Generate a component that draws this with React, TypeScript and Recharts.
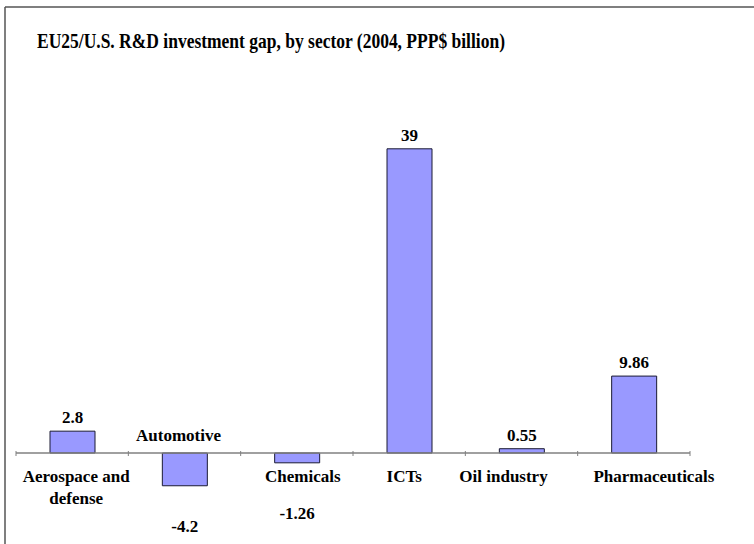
import { BarChart, Bar, XAxis, YAxis, ReferenceLine, LabelList } from "recharts";

const categories = [
  "Aerospace and defense",
  "Automotive",
  "Chemicals",
  "ICTs",
  "Oil industry",
  "Pharmaceuticals",
];
const gapValues = [2.8, -4.2, -1.26, 39, 0.55, 9.86];
const yDomain = [-10, 40];

const data = categories.map((name, i) => ({ name, gap: gapValues[i] }));

const FONT = "Liberation Serif, Tinos, Times New Roman, DejaVu Serif, serif";

// the original labels are not quite centred under their bars
const labelNudge = [4, -6, 6, -5, -18, 20];

// greedy wrap, like the spreadsheet did for the long category name
function wrap(text: string, maxChars = 15) {
  const lines: string[] = [];
  let cur = "";
  for (const w of text.split(" ")) {
    const next = cur ? cur + " " + w : w;
    if (next.length > maxChars && cur) {
      lines.push(cur);
      cur = w;
    } else cur = next;
  }
  if (cur) lines.push(cur);
  return lines;
}

// zero line drawn as the category axis, with ticks between categories
function ZeroAxis(props: any) {
  const { x1, y1, x2 } = props;
  const n = categories.length;
  const step = (x2 - x1) / n;
  return (
    <g>
      <line x1={x1} y1={y1} x2={x2} y2={y1} stroke="#808080" strokeWidth={1.5} />
      {Array.from({ length: n + 1 }, (_, i) => (
        <line
          key={"t" + i}
          x1={x1 + i * step}
          x2={x1 + i * step}
          y1={y1 - 2}
          y2={y1 + 3}
          stroke="#808080"
          strokeWidth={1}
        />
      ))}
      {categories.map((name, i) => {
        const cx = x1 + (i + 0.5) * step + labelNudge[i];
        const above = gapValues[i] < -2;
        const lines = wrap(name);
        const y0 = above ? y1 - 12 : y1 + 29;
        return (
          <text
            key={name}
            x={cx}
            y={y0}
            textAnchor="middle"
            style={{ fontFamily: FONT, fontWeight: "bold", fontSize: 17 }}
            fill="#000"
          >
            {lines.map((l, j) => (
              <tspan key={j} x={cx} dy={j === 0 ? 0 : 22}>
                {l}
              </tspan>
            ))}
          </text>
        );
      })}
    </g>
  );
}

function ValueLabel(props: any) {
  const vb = props.viewBox || props;
  const { x, y, width, height } = vb;
  const value = Number(props.value);
  const top = Math.min(y, y + height);
  const bottom = Math.max(y, y + height);
  const cx = x + width / 2;
  let ty;
  if (value >= 0) {
    ty = top - 8;
  } else {
    // negative labels sit below the category labels
    ty = Math.max(bottom + 46, top + 66);
  }
  return (
    <text
      x={cx}
      y={ty}
      textAnchor="middle"
      style={{ fontFamily: FONT, fontWeight: "bold", fontSize: 17 }}
      fill="#000"
    >
      {String(props.value)}
    </text>
  );
}

export default function App() {
  return (
    <div style={{ position: "absolute", left: 0, top: 0, width: 754, height: 544, background: "#fff" }}>
      <svg width={754} height={544} style={{ position: "absolute", left: 0, top: 0 }}>
        <line x1={5} y1={7} x2={754} y2={7} stroke="#555" strokeWidth={1.5} />
        <line x1={5} y1={7} x2={5} y2={544} stroke="#555" strokeWidth={1.5} />
        <text
          x={37}
          y={48}
          textLength={468}
          lengthAdjust="spacingAndGlyphs"
          style={{ fontFamily: FONT, fontWeight: "bold", fontSize: 22 }}
          fill="#000"
        >
          EU25/U.S. R&amp;D investment gap, by sector (2004, PPP$ billion)
        </text>
      </svg>
      <div style={{ position: "absolute", left: 0, top: 0 }}>
        <BarChart
          width={754}
          height={544}
          data={data}
          margin={{ top: 141, right: 64, bottom: 13, left: 16 }}
        >
          <XAxis dataKey="name" hide />
          <YAxis hide domain={yDomain} type="number" allowDataOverflow />
          <Bar
            dataKey="gap"
            barSize={45}
            fill="#9999FF"
            stroke="#1a1a33"
            strokeWidth={1}
            isAnimationActive={false}
          >
            <LabelList dataKey="gap" content={ValueLabel} />
          </Bar>
          <ReferenceLine y={0} shape={ZeroAxis} />
        </BarChart>
      </div>
    </div>
  );
}
